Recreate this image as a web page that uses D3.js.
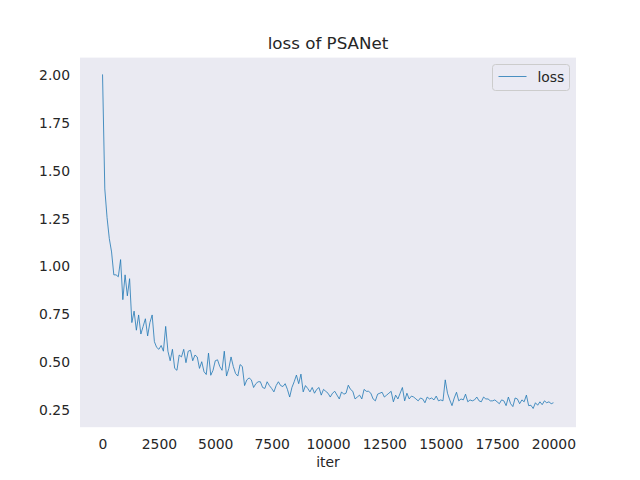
<!DOCTYPE html>
<html>
<head>
<meta charset="utf-8">
<script src="https://cdn.jsdelivr.net/npm/d3@7"></script>
<style>
  body { margin: 0; background: #fff; }
  svg { display: block; font-family: "DejaVu Sans", sans-serif; }
</style>
</head>
<body>
<svg id="chart" width="640" height="480"></svg>
<script>
var iters = d3.range(0, 20001, 100);
var loss = [
  2.00, 1.40, 1.25, 1.14, 1.07, 0.95, 0.95, 0.94, 1.03, 0.82,
  0.95, 0.84, 0.93, 0.70, 0.76, 0.66, 0.74, 0.64, 0.68, 0.72,
  0.63, 0.70, 0.74, 0.60, 0.57, 0.56, 0.58, 0.55, 0.68, 0.55,
  0.50, 0.56, 0.46, 0.45, 0.53, 0.52, 0.56, 0.49, 0.55, 0.555,
  0.50, 0.53, 0.52, 0.46, 0.495, 0.443, 0.428, 0.54, 0.424, 0.45,
  0.50, 0.505, 0.47, 0.45, 0.55, 0.42, 0.46, 0.52, 0.47, 0.433,
  0.42, 0.48, 0.47, 0.37, 0.40, 0.41, 0.40, 0.36, 0.38, 0.39,
  0.39, 0.36, 0.355, 0.39, 0.37, 0.355, 0.337, 0.37, 0.39, 0.37,
  0.365, 0.38, 0.35, 0.31, 0.36, 0.39, 0.425, 0.38, 0.43, 0.337,
  0.37, 0.355, 0.337, 0.36, 0.33, 0.35, 0.36, 0.32, 0.35, 0.34,
  0.33, 0.31, 0.33, 0.34, 0.32, 0.30, 0.337, 0.325, 0.33, 0.372,
  0.35, 0.34, 0.30, 0.31, 0.32, 0.30, 0.35, 0.34, 0.34, 0.33,
  0.30, 0.29, 0.325, 0.33, 0.335, 0.31, 0.32, 0.33, 0.34, 0.285,
  0.32, 0.30, 0.33, 0.36, 0.29, 0.33, 0.30, 0.315, 0.31, 0.30,
  0.29, 0.305, 0.30, 0.28, 0.31, 0.30, 0.305, 0.295, 0.315, 0.29,
  0.295, 0.29, 0.40, 0.33, 0.295, 0.265, 0.305, 0.335, 0.29, 0.30,
  0.295, 0.325, 0.285, 0.295, 0.29, 0.295, 0.31, 0.29, 0.285, 0.31,
  0.30, 0.30, 0.29, 0.29, 0.295, 0.285, 0.275, 0.295, 0.29, 0.265,
  0.31, 0.275, 0.26, 0.305, 0.30, 0.275, 0.295, 0.285, 0.32, 0.265,
  0.267, 0.25, 0.28, 0.267, 0.285, 0.27, 0.29, 0.28, 0.285, 0.275,
  0.28
];
var xTicks = [0, 2500, 5000, 7500, 10000, 12500, 15000, 17500, 20000];
var yTicks = [0.25, 0.50, 0.75, 1.00, 1.25, 1.50, 1.75, 2.00];
var title = "loss of PSANet";
var xLabel = "iter";
var seriesName = "loss";

var plotLeft = 80, plotRight = 576, plotTop = 57.6, plotBottom = 427.2,
    textColor = "#262626",
    lineColor = "#1f77b4";

var svg = d3.select("#chart");

var x = d3.scaleLinear().domain([-1000, 21000]).range([plotLeft, plotRight]);
var y = d3.scaleLinear().domain([0.152, 2.088]).range([plotBottom, plotTop]);

svg.append("rect")
   .attr("x", plotLeft).attr("y", plotTop)
   .attr("width", plotRight - plotLeft).attr("height", plotBottom - plotTop)
   .attr("fill", "#eaeaf2");

var xAxis = svg.append("g")
   .attr("transform", "translate(0," + plotBottom + ")")
   .call(d3.axisBottom(x).tickValues(xTicks).tickSize(0).tickPadding(11.5).tickFormat(d3.format("d")));

var yAxis = svg.append("g")
   .attr("transform", "translate(" + plotLeft + ",0)")
   .call(d3.axisLeft(y).tickValues(yTicks).tickSize(0).tickPadding(10).tickFormat(d3.format(".2f")));

[xAxis, yAxis].forEach(function(g) {
  g.select(".domain").remove();
  g.selectAll("text")
   .attr("fill", textColor)
   .style("font-size", "13.9px")
   .style("font-family", "'DejaVu Sans', sans-serif");
});
yAxis.selectAll("text").attr("dy", "0.4em");

var line = d3.line()
   .x(function(d, i) { return x(iters[i]); })
   .y(function(d) { return y(d); });

svg.append("path")
   .datum(loss)
   .attr("fill", "none")
   .attr("stroke", lineColor)
   .attr("stroke-width", 0.8)
   .attr("stroke-linejoin", "round")
   .attr("d", line);

svg.append("text")
   .attr("x", (plotLeft + plotRight) / 2).attr("y", 49)
   .attr("text-anchor", "middle")
   .attr("fill", textColor)
   .style("font-size", "16.7px")
   .text(title);

svg.append("text")
   .attr("x", (plotLeft + plotRight) / 2).attr("y", 467)
   .attr("text-anchor", "middle")
   .attr("fill", textColor)
   .style("font-size", "13.9px")
   .text(xLabel);

// legend
var legend = svg.append("g").attr("transform", "translate(492.5,64.5)");
legend.append("rect")
   .attr("width", 77).attr("height", 26).attr("rx", 3)
   .attr("fill", "#eaeaf2").attr("fill-opacity", 0.8)
   .attr("stroke", "#cccccc").attr("stroke-width", 1);
legend.append("line")
   .attr("x1", 6).attr("x2", 34).attr("y1", 12).attr("y2", 12)
   .attr("stroke", lineColor).attr("stroke-width", 0.8);
legend.append("text")
   .attr("x", 45).attr("y", 17)
   .attr("fill", textColor)
   .style("font-size", "13.9px")
   .text(seriesName);
</script>
</body>
</html>
